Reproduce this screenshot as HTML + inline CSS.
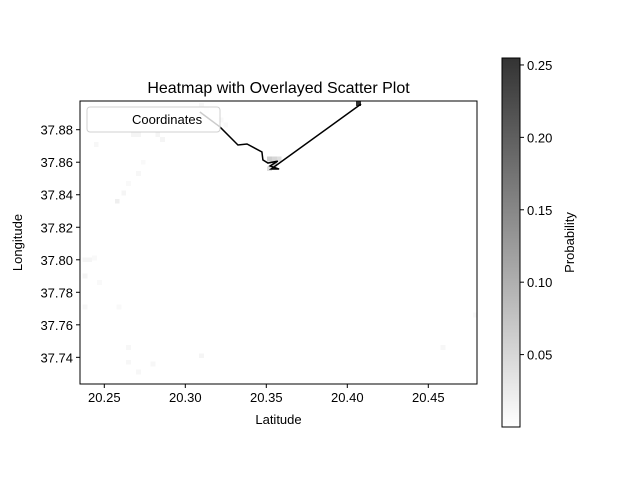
<!DOCTYPE html>
<html><head><meta charset="utf-8">
<style>
body{margin:0;background:#fff;}
svg{display:block;font-family:"Liberation Sans","DejaVu Sans",sans-serif;}
</style></head>
<body>
<svg id="chart" width="640" height="480" viewBox="0 0 640 480">
<rect width="640" height="480" fill="#fff"/>
<g id="cells" shape-rendering="crispEdges"></g>
<g id="line"></g>
<g id="axes"></g>
<g id="cbar"></g>
</svg>
<script>
// ---- data ----
const xTicks = [20.25, 20.30, 20.35, 20.40, 20.45];
const xTickLabels = ["20.25", "20.30", "20.35", "20.40", "20.45"];
const yTicks = [37.74, 37.76, 37.78, 37.80, 37.82, 37.84, 37.86, 37.88];
const yTickLabels = ["37.74", "37.76", "37.78", "37.80", "37.82", "37.84", "37.86", "37.88"];
const cbTicks = [0.05, 0.10, 0.15, 0.20, 0.25];
const cbTickLabels = ["0.05", "0.10", "0.15", "0.20", "0.25"];
const cellLat = [20.407, 20.352, 20.355, 20.355, 20.352, 20.245, 20.268, 20.271, 20.283, 20.286, 20.310, 20.313, 20.322, 20.325, 20.274, 20.271, 20.262, 20.258, 20.265, 20.238, 20.241, 20.244, 20.238, 20.247, 20.259, 20.238, 20.265, 20.265, 20.280, 20.310, 20.459, 20.479, 20.271, 20.358];
const cellLon = [37.896, 37.862, 37.862, 37.859, 37.856, 37.871, 37.877, 37.877, 37.877, 37.874, 37.895, 37.892, 37.886, 37.883, 37.860, 37.853, 37.841, 37.836, 37.847, 37.800, 37.800, 37.801, 37.790, 37.786, 37.771, 37.771, 37.746, 37.737, 37.736, 37.741, 37.746, 37.766, 37.731, 37.862];
const cellProb = [0.255, 0.06, 0.05, 0.07, 0.04, 0.01, 0.012, 0.012, 0.012, 0.012, 0.01, 0.01, 0.008, 0.008, 0.008, 0.01, 0.012, 0.02, 0.008, 0.012, 0.012, 0.008, 0.012, 0.008, 0.008, 0.01, 0.01, 0.01, 0.01, 0.012, 0.01, 0.008, 0.01, 0.04];
const pathLat = [20.309, 20.3214, 20.3325, 20.3381, 20.3473, 20.3479, 20.3510, 20.3571, 20.3523, 20.3579, 20.3530, 20.4085];
const pathLon = [37.8909, 37.8817, 37.8706, 37.8712, 37.8663, 37.8614, 37.8595, 37.8607, 37.8577, 37.8558, 37.8558, 37.8958];

// ---- scales ----
const PX0 = 80, PX1 = 477, PY0 = 101, PY1 = 384;
const xs = v => 104.3 + (v - 20.25) * 1620;
const ys = v => 129.7 - (v - 37.88) * 1626;
const CB = {x: 502, w: 18, y0: 58, y1: 427, vmin: 0, vmax: 0.2548};
const cbY = v => CB.y1 - (v - CB.vmin) / (CB.vmax - CB.vmin) * (CB.y1 - CB.y0);
const grey = v => { const t = Math.max(0, Math.min(1, (v - CB.vmin) / (CB.vmax - CB.vmin))); const g = Math.round(255 - t * (255 - 51)); return `rgb(${g},${g},${g})`; };
const NS = "http://www.w3.org/2000/svg";
function mk(tag, attrs, parent){ const e = document.createElementNS(NS, tag); for (const k in attrs) e.setAttribute(k, attrs[k]); parent.appendChild(e); return e; }

// ---- cells ----
const gC = document.getElementById('cells');
const cw = 0.003 * 1620, ch = 0.003 * 1626;
cellLat.forEach((la, i) => {
  const r = mk('rect', {x: xs(la) - cw/2, y: ys(cellLon[i]) - ch/2, width: cw, height: ch, fill: grey(cellProb[i])}, gC);
  
  
});

// ---- path ----
const gL = document.getElementById('line');
const pl = mk('polyline', {points: pathLat.map((la, i) => xs(la) + ',' + ys(pathLon[i])).join(' '), fill: 'none', stroke: '#000', 'stroke-width': 1.5, 'stroke-linejoin': 'miter'}, gL);



// ---- axes ----
const gA = document.getElementById('axes');
const frame = mk('rect', {x: PX0, y: PY0, width: PX1 - PX0, height: PY1 - PY0, fill: 'none', stroke: '#000', 'stroke-width': 1}, gA);


xTicks.forEach((v, i) => {
  const x = xs(v);
  mk('line', {x1: x, x2: x, y1: PY1, y2: PY1 + 4, stroke: '#000'}, gA);
  const t = mk('text', {x: x, y: PY1 + 18, 'font-size': 13, 'text-anchor': 'middle'}, gA);
  t.textContent = xTickLabels[i];
  
  
});
yTicks.forEach((v, i) => {
  const y = ys(v);
  mk('line', {x1: PX0 - 4, x2: PX0, y1: y, y2: y, stroke: '#000'}, gA);
  const t = mk('text', {x: PX0 - 7, y: y + 5, 'font-size': 13, 'text-anchor': 'end'}, gA);
  t.textContent = yTickLabels[i];
  
  
});
const title = mk('text', {x: 278.5, y: 93, 'font-size': 16, 'text-anchor': 'middle'}, gA);
title.textContent = 'Heatmap with Overlayed Scatter Plot';


const xl = mk('text', {x: 278.5, y: 424, 'font-size': 13, 'text-anchor': 'middle'}, gA);
xl.textContent = 'Latitude';


const yl = mk('text', {x: 0, y: 0, 'font-size': 13, 'text-anchor': 'middle', transform: 'translate(22,242.5) rotate(-90)'}, gA);
yl.textContent = 'Longitude';



// legend
const leg = mk('g', {}, gA);


mk('rect', {x: 87, y: 107, width: 133, height: 25, rx: 3, fill: '#fff', 'fill-opacity': 0.8, stroke: '#d0d0d0'}, leg);
const lt = mk('text', {x: 132, y: 124, 'font-size': 13}, leg);
lt.textContent = 'Coordinates';



// ---- colorbar ----
const gB = document.getElementById('cbar');
const defs = mk('defs', {}, gB);
const lg = mk('linearGradient', {id: 'cbg', x1: 0, y1: 1, x2: 0, y2: 0}, defs);
mk('stop', {offset: 0, 'stop-color': grey(CB.vmin)}, lg);
mk('stop', {offset: 1, 'stop-color': grey(CB.vmax)}, lg);
const cr = mk('rect', {x: CB.x, y: CB.y0, width: CB.w, height: CB.y1 - CB.y0, fill: 'url(#cbg)', stroke: '#000', 'stroke-width': 1}, gB);


cbTicks.forEach((v, i) => {
  const y = cbY(v);
  mk('line', {x1: CB.x + CB.w, x2: CB.x + CB.w + 4, y1: y, y2: y, stroke: '#000'}, gB);
  const t = mk('text', {x: CB.x + CB.w + 7, y: y + 5, 'font-size': 13}, gB);
  t.textContent = cbTickLabels[i];
  
  
});
const cl = mk('text', {x: 0, y: 0, 'font-size': 13, 'text-anchor': 'middle', transform: 'translate(574,242.5) rotate(-90)'}, gB);
cl.textContent = 'Probability';


</script>
</body></html>
